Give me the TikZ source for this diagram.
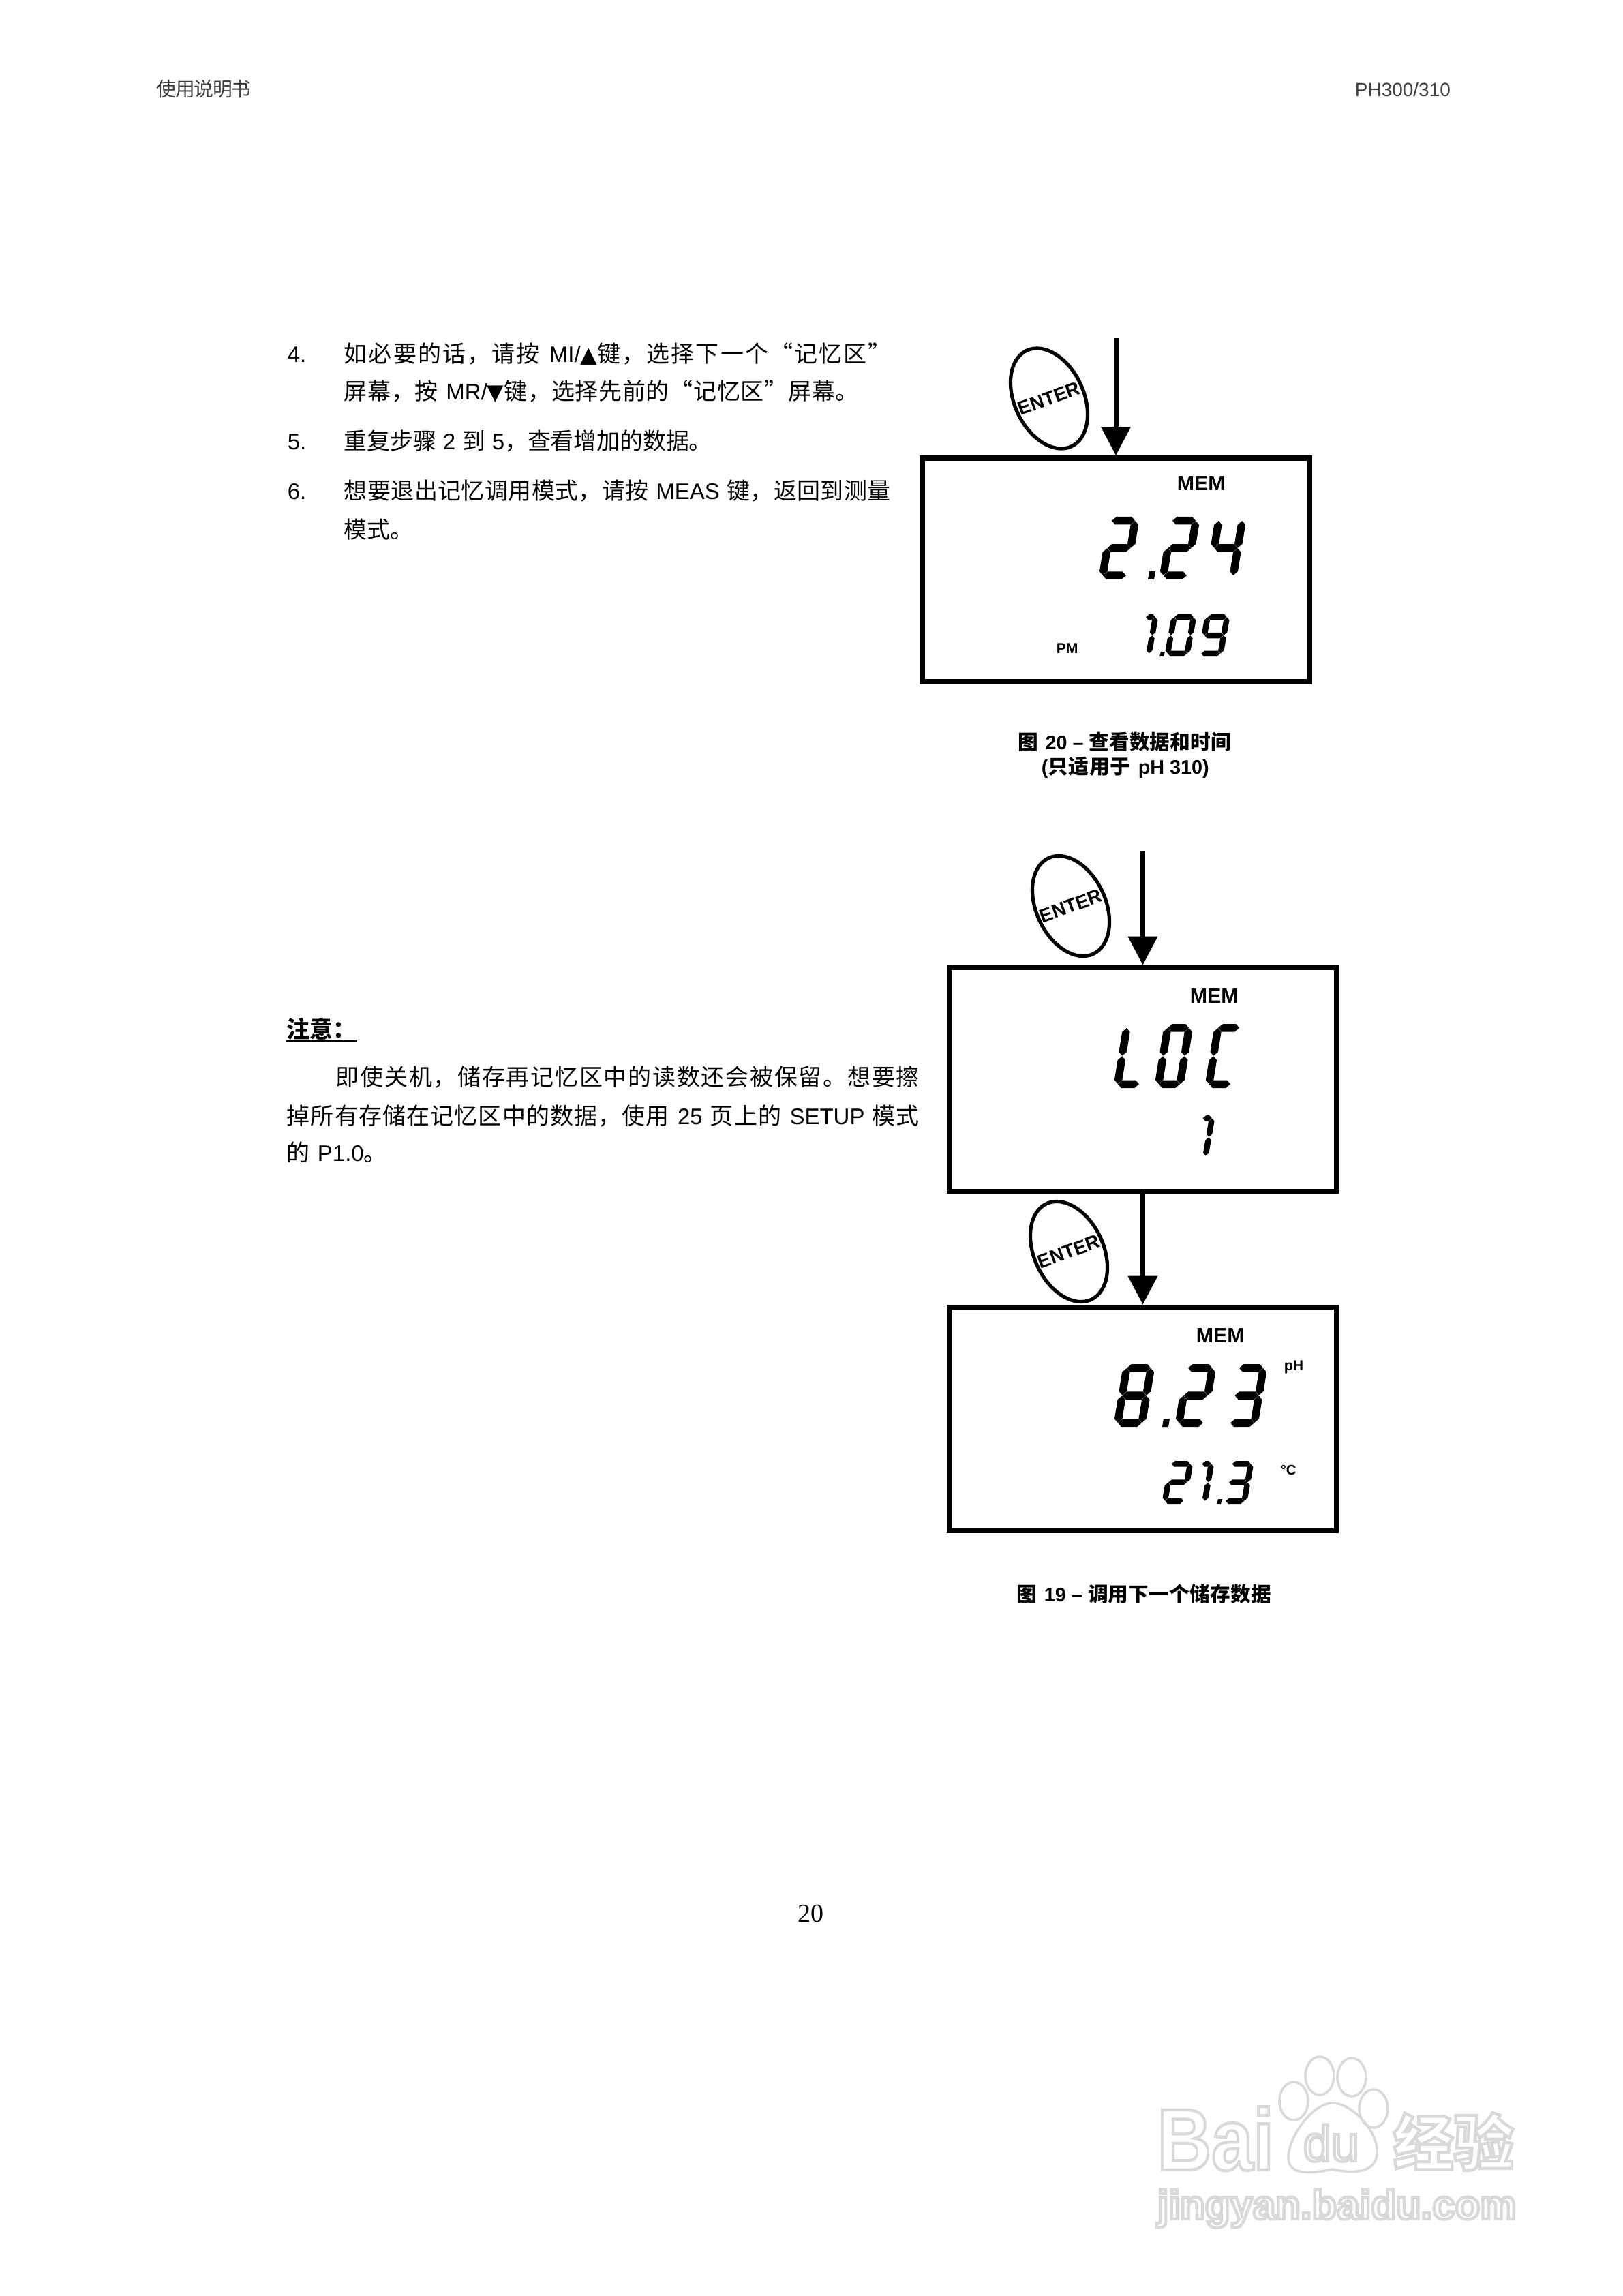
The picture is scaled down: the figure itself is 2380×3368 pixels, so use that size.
\documentclass[tikz,border=0pt]{standalone}
\usepackage{fontspec}
\usetikzlibrary{arrows.meta,shapes.geometric}
\setmainfont{Liberation Sans}
\newfontfamily\cjk[Scale=1.03]{Noto Sans CJK SC}
\newfontfamily\symfont{DejaVu Sans}
\newfontfamily\pagefont{Liberation Serif}
\newdimen\px \px=.25pt
\ExplSyntaxOn
\NewDocumentCommand\zh{m}{{\cjk\tl_map_inline:nn{#1}{##1\hskip 0pt plus 1fil minus 1fil\relax}}}
\ExplSyntaxOff
\newcommand\ws{\hskip 2.5pt plus 1fil minus 1fil\relax}
\newcommand\fitline[5]{\node[#1] (#2) at (#3) {\makebox[#4\px][s]{#5\unskip}};}
% seven-segment glyphs
\newcommand\hseg[3]{\fill ({#1+\sg},#3) -- ({#1+\sg+\sa/2},{#3+\sb/2}) -- ({#2-\sg-\sa/2},{#3+\sb/2}) -- ({#2-\sg},#3) -- ({#2-\sg-\sa/2},{#3-\sb/2}) -- ({#1+\sg+\sa/2},{#3-\sb/2}) -- cycle;}
\newcommand\vseg[3]{\fill (#1,{#2+\sh}) -- ({#1+\sa/2},{#2+\sh+\sb/2}) -- ({#1+\sa/2},{#3-\sh-\sb/2}) -- (#1,{#3-\sh}) -- ({#1-\sa/2},{#3-\sh-\sb/2}) -- ({#1-\sa/2},{#2+\sh+\sb/2}) -- cycle;}
\newcommand\segA{\hseg{\sa/2}{1-\sa/2}{1-\sb/2}}
\newcommand\segD{\hseg{\sa/2}{1-\sa/2}{\sb/2}}
\newcommand\segG{\hseg{\sa/2}{1-\sa/2}{.5}}
\newcommand\segF{\vseg{\sa/2}{.5}{1-\sb/2}}
\newcommand\segE{\vseg{\sa/2}{\sb/2}{.5}}
\newcommand\segB{\vseg{1-\sa/2}{.5}{1-\sb/2}}
\newcommand\segC{\vseg{1-\sa/2}{\sb/2}{.5}}
\newcommand\segI{\hseg{.5}{1-\sa/2}{1-\sb/2}}
\expandafter\def\csname lcdglyph0\endcsname{\segA\segB\segC\segD\segE\segF}
\expandafter\def\csname lcdglyph1\endcsname{\segI\segB\segC}
\expandafter\def\csname lcdglyph2\endcsname{\segA\segB\segG\segE\segD}
\expandafter\def\csname lcdglyph3\endcsname{\segA\segB\segG\segC\segD}
\expandafter\def\csname lcdglyph4\endcsname{\segF\segG\segB\segC}
\expandafter\def\csname lcdglyph8\endcsname{\segA\segB\segC\segD\segE\segF\segG}
\expandafter\def\csname lcdglyph9\endcsname{\segA\segB\segC\segD\segF\segG}
\expandafter\def\csname lcdglyphL\endcsname{\segF\segE\segD}
\expandafter\def\csname lcdglyphC\endcsname{\segA\segF\segE\segD}
% \lcd{char}{x0}{y0}{w}{h}{slant}{thick}
\newcommand\lcd[7]{\begin{scope}[shift={(#2,#3)},x={(#4*.25pt,0pt)},y={(#6*.25pt,#5*.25pt)}]
\pgfmathsetmacro\sa{#7/#4}\pgfmathsetmacro\sb{#7/#5}\pgfmathsetmacro\sg{.3/#4}\pgfmathsetmacro\sh{.3/#5}
\csname lcdglyph#1\endcsname\end{scope}}
\newcommand\lcddot[4]{\fill (#1,#2) -- ({#1+#3},#2) -- ({#1+#3+2},{#2-#4}) -- ({#1+2},{#2-#4}) -- cycle;}
\tikzset{
 x=.25pt,y=-.25pt,
 body/.style={anchor=base west,inner sep=0pt,font=\fontsize{8.25pt}{10pt}\selectfont},
 capt/.style={anchor=base west,inner sep=0pt,font=\fontsize{7.2pt}{9pt}\selectfont\bfseries},
 head/.style={anchor=base west,inner sep=0pt,font=\fontsize{7pt}{9pt}\selectfont,text=black!75},
 lcdbox/.style={draw,line width=1.9pt,minimum width=142pt,minimum height=82pt,inner sep=0pt},
 flow/.style={line width=1.75pt,-{Triangle[width=10.5pt,length=10.5pt]}},
 keyoval/.style={draw,ellipse,line width=1.3pt,minimum width=25.4pt,minimum height=38.8pt,inner sep=0pt,rotate=25},
 keytext/.style={inner sep=0pt,font=\fontsize{7pt}{8pt}\selectfont\bfseries,rotate=20},
 memtext/.style={anchor=base west,inner sep=0pt,font=\fontsize{7.6pt}{8pt}\selectfont\bfseries},
 unit/.style={anchor=base west,inner sep=0pt,font=\fontsize{5.3pt}{6pt}\selectfont\bfseries},
 lcdtext/.style={inner sep=0pt,text opacity=0,font=\fontsize{20pt}{22pt}\selectfont},
 wmline/.style={draw=black!15,line width=.9pt},
}
\newcommand\wmon{\special{pdf:code q 1 Tr 1.1 w 0.85 G}}
\newcommand\wmoff{\special{pdf:code Q}}
\begin{document}
\begin{tikzpicture}
\path[use as bounding box,fill=white] (0,0) rectangle (2380,3368);
% header and footer
\fitline{head}{hl}{229,142}{139}{\zh{使用说明书}}
\node[head] (hr) at (1987,142) {PH300/310};
\node[inner sep=0pt,anchor=base,font=\pagefont\fontsize{9.5pt}{11pt}\selectfont] (pg) at (1189,2819) {20};
% steps
\node[body] (n4) at (421,532) {4.};
\fitline{body}{s4a}{504,532}{803}{\zh{如必要的话，请按}\ws MI/{\symfont\fontsize{8pt}{8pt}\selectfont ▲}\zh{键，选择下一个“记忆区”}}
\fitline{body}{s4b}{504,587}{755}{\zh{屏幕，按}\ws MR/{\symfont\fontsize{8pt}{8pt}\selectfont ▼}\zh{键，选择先前的“记忆区”屏幕。}}
\node[body] (n5) at (421,660) {5.};
\fitline{body}{s5}{504,660}{540}{\zh{重复步骤}\ws 2\ws\zh{到}\ws 5\zh{，查看增加的数据。}}
\node[body] (n6) at (421,733) {6.};
\fitline{body}{s6a}{504,733}{802}{\zh{想要退出记忆调用模式，请按}\ws MEAS\ws\zh{键，返回到测量}}
\fitline{body}{s6b}{504,790}{102}{\zh{模式。}}
% note
\node[body,font=\fontsize{8.25pt}{10pt}\selectfont\bfseries] (nt) at (420,1522) {\zh{注意：}};
\draw[line width=.7pt] (420,1527) -- (523,1527);
\fitline{body}{nt1}{492,1592}{856}{\zh{即使关机，储存再记忆区中的读数还会被保留。想要擦}}
\fitline{body}{nt2}{420,1649}{928}{\zh{掉所有存储在记忆区中的数据，使用}\ws 25\ws\zh{页上的}\ws SETUP\ws\zh{模式}}
\fitline{body}{nt3}{420,1703}{147}{\zh{的}\ws P1.0\zh{。}}
% figure 20
\node[lcdbox] (lcd1) at (1637,836) {};
\coordinate (a1) at (1637,496);
\draw[flow] (a1) -- (a1 |- lcd1.north);
\node[keyoval] (k1) at (1539,584.5) {};
\node[keytext] (k1t) at (k1.center) {ENTER};
\node[memtext] (m1) at (1726,720) {MEM};
\node[unit] (pm) at (1549,959) {PM};
\node[lcdtext] (v1) at (1720,804) {2.24};
\lcd{2}{1611}{850}{46}{92}{15}{11.5}
\lcddot{1684}{850}{9}{12}
\lcd{2}{1700}{850}{46}{92}{15}{11.5}
\lcd{4}{1768}{850}{46}{92}{15}{11.5}
\node[lcdtext,font=\fontsize{14pt}{16pt}\selectfont] (v2) at (1730,932) {1.09};
\lcd{1}{1652}{963}{37}{62}{11}{8.5}
\lcddot{1701}{963}{6}{7}
\lcd{0}{1708}{963}{37}{62}{11}{8.5}
\lcd{9}{1757}{963}{37}{62}{11}{8.5}
\fitline{capt}{c20a}{1493,1099}{312}{\zh{图}\ws 20 – \zh{查看数据和时间}}
\fitline{capt}{c20b}{1527,1135}{246}{(\zh{只适用于}\ws pH 310)}
% figure 19
\node[lcdbox] (lcd2) at (1676.5,1583.5) {};
\coordinate (a2) at (1676.5,1249);
\draw[flow] (a2) -- (a2 |- lcd2.north);
\node[keyoval] (k2) at (1571,1329) {};
\node[keytext] (k2t) at (k2.center) {ENTER};
\node[memtext] (m2) at (1745,1471) {MEM};
\node[lcdtext] (v3) at (1727,1550) {LOC};
\lcd{L}{1633}{1596}{43}{94}{15}{11.5}
\lcd{0}{1693}{1596}{43}{94}{15}{11.5}
\lcd{C}{1767}{1596}{43}{94}{15}{11.5}
\node[lcdtext,font=\fontsize{14pt}{16pt}\selectfont] (v4) at (1775,1668) {1};
\lcd{1}{1736}{1700}{36}{64}{11}{8.5}
\node[lcdbox] (lcd3) at (1676.5,2081.5) {};
\draw[flow] (lcd2.south) -- (lcd3.north);
\node[keyoval] (k3) at (1568,1836) {};
\node[keytext] (k3t) at (k3.center) {ENTER};
\node[memtext] (m3) at (1754,1969) {MEM};
\node[unit] (ph) at (1883,2010) {pH};
\node[lcdtext] (v5) at (1745,2047) {8.23};
\lcd{8}{1633}{2093}{47}{92}{15}{11.5}
\lcddot{1705}{2093}{9}{12}
\lcd{2}{1723}{2093}{47}{92}{15}{11.5}
\lcd{3}{1798}{2093}{47}{92}{15}{11.5}
\node[unit,font=\fontsize{5.1pt}{6pt}\selectfont\bfseries] (dc) at (1878,2163) {°C};
\node[lcdtext,font=\fontsize{14pt}{16pt}\selectfont] (v6) at (1770,2174) {21.3};
\lcd{2}{1704}{2206}{36}{63}{11}{8.5}
\lcd{1}{1735}{2206}{36}{63}{11}{8.5}
\lcddot{1785}{2206}{6}{7}
\lcd{3}{1793}{2206}{36}{63}{11}{8.5}
\fitline{capt}{c19}{1491,2349}{373}{\zh{图}\ws 19 – \zh{调用下一个储存数据}}
% watermark
\path[wmline] (1898,3082) ellipse [x radius=21,y radius=28];
\path[wmline] (1936,3045) ellipse [x radius=21,y radius=28];
\path[wmline] (1983,3047) ellipse [x radius=21,y radius=28];
\path[wmline] (2015,3093) ellipse [x radius=21,y radius=28];
\path[wmline] (1955,3085) .. controls (1985,3085) and (2024,3130) .. (2020,3160) .. controls (2018,3185) and (1990,3190) .. (1955,3182) .. controls (1925,3188) and (1890,3192) .. (1890,3165) .. controls (1890,3135) and (1925,3085) .. (1955,3085) -- cycle;
\node[anchor=base west,inner sep=0pt,xscale=.86,font=\fontsize{32pt}{34pt}\selectfont\bfseries] (wm1) at (1697,3183) {\wmon Bai\wmoff};
\node[anchor=base west,inner sep=0pt,font=\fontsize{18.4pt}{20pt}\selectfont] (wm2) at (1911,3170) {\wmon du\wmoff};
\node[anchor=base west,inner sep=0pt,font=\cjk\fontsize{21.5pt}{24pt}\selectfont\bfseries] (wm3) at (2043,3176) {\wmon 经验\wmoff};
\node[anchor=base west,inner sep=0pt,font=\fontsize{15pt}{18pt}\selectfont\bfseries] (wm4) at (1697,3255) {\wmon jingyan.baidu.com\wmoff};
\end{tikzpicture}
\end{document}
